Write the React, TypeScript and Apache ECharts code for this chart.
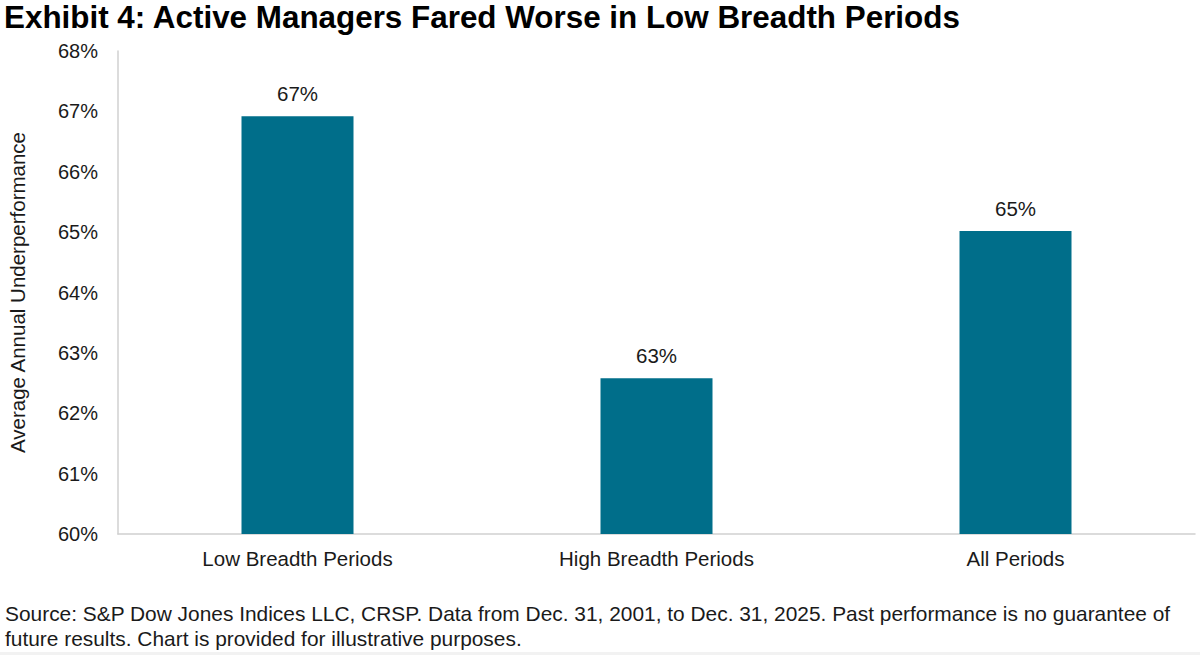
import React, { useEffect, useRef } from "react";
import * as echarts from "echarts";

const categories = ["Low Breadth Periods", "High Breadth Periods", "All Periods"];
const values = [66.92, 62.58, 65.02];
const yTicks = { min: 60, max: 68, interval: 1 };

const titleText = "Exhibit 4: Active Managers Fared Worse in Low Breadth Periods";
const yAxisName = "Average Annual Underperformance";
const footerLines = [
  "Source: S&P Dow Jones Indices LLC, CRSP. Data from Dec. 31, 2001, to Dec. 31, 2025. Past performance is no guarantee of",
  "future results. Chart is provided for illustrative purposes.",
];

const FONT = "'Liberation Sans', Arial, sans-serif";

export default function App() {
  const ref = useRef<HTMLDivElement>(null);
  useEffect(() => {
    document.body.style.margin = "0";
    const chart = echarts.init(ref.current!, null, { renderer: "svg" });
    chart.setOption({
      animation: false,
      backgroundColor: "#ffffff",
      textStyle: { fontFamily: FONT },
      grid: { left: 118, right: 5, top: 51, bottom: 121, containLabel: false, outerBoundsMode: "none" },
      xAxis: {
        type: "category",
        data: categories,
        axisLine: { show: true, lineStyle: { color: "#d0d0d0", width: 1.5 } },
        axisTick: { show: false },
        axisLabel: { color: "#1a1a1a", fontSize: 20.5, fontFamily: FONT, margin: 14 },
      },
      yAxis: {
        type: "value",
        min: yTicks.min,
        max: yTicks.max,
        interval: yTicks.interval,
        name: yAxisName,
        nameLocation: "middle",
        nameGap: 90,
        nameRotate: 90,
        nameTextStyle: { color: "#1a1a1a", fontSize: 20.5, fontFamily: FONT },
        axisLine: { show: true, lineStyle: { color: "#d0d0d0", width: 1.5 } },
        axisTick: { show: false },
        splitLine: { show: false },
        axisLabel: {
          color: "#1a1a1a",
          fontSize: 20,
          fontFamily: FONT,
          margin: 20,
          formatter: (v: number) => `${v}%`,
        },
      },
      series: [
        {
          type: "bar",
          data: values,
          barWidth: 112,
          itemStyle: { color: "#006E8A" },
          label: {
            show: true,
            position: "top",
            distance: 12,
            color: "#1a1a1a",
            fontSize: 20.5,
            fontFamily: FONT,
            formatter: (p: any) => `${Math.round(p.value)}%`,
          },
        },
      ],
      graphic: [
        {
          type: "text",
          left: 4,
          top: 2,
          style: { text: titleText, fontSize: 31.4, fontWeight: "bold", fill: "#000", fontFamily: FONT },
        },
        {
          type: "text",
          left: 5,
          top: 601,
          style: {
            text: footerLines.join("\n"),
            fontSize: 20.9,
            lineHeight: 25,
            fill: "#1a1a1a",
            fontFamily: FONT,
          },
        },
        {
          type: "rect",
          left: 0,
          top: 652,
          shape: { width: 1200, height: 3 },
          style: { fill: "#f2f2f2" },
        },
      ],
    });
    return () => chart.dispose();
  }, []);
  return <div ref={ref} style={{ width: 1200, height: 655, position: "absolute", left: 0, top: 0 }} />;
}
